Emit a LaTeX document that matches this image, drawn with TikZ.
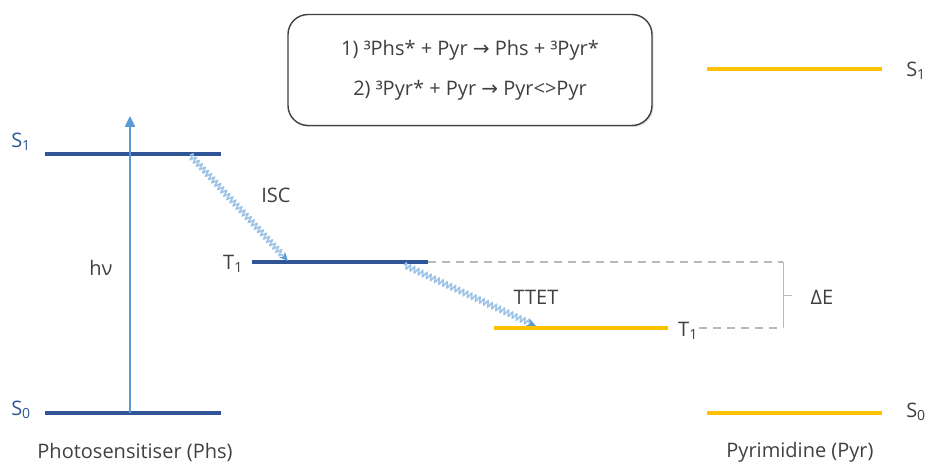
\documentclass[tikz,border=0pt]{standalone}
\usepackage{fontspec}
\setmainfont{Open Sans}
\newfontfamily\arrowfont{DejaVu Sans}
\usetikzlibrary{arrows.meta,decorations.pathmorphing,shadows}

\definecolor{phsblue}{HTML}{2F5597}
\definecolor{lightblue}{HTML}{5B9BD5}
\definecolor{wavyblue}{HTML}{9DC3E6}
\definecolor{pyrgold}{HTML}{FFC000}
\definecolor{txtgray}{HTML}{404040}

\newcommand{\ra}{{\arrowfont\char"2192}}

\begin{document}
\begin{tikzpicture}[
    x=1pt, y=-1pt,
    font=\fontsize{20}{24}\selectfont,
    level/.style={line width=3.5pt},
    phslevel/.style={level, draw=phsblue},
    pyrlevel/.style={level, draw=pyrgold},
    lbl/.style={text=txtgray, inner sep=0pt},
    phslbl/.style={lbl, text=phsblue},
    wavy/.style={
        draw=wavyblue, line width=1.5pt,
        decoration={snake, amplitude=2.8pt, segment length=4.5pt, post length=7pt},
        decorate, -{Stealth[length=9pt, width=8pt, color=lightblue]}
    },
    guide/.style={draw=gray!55, line width=1.2pt, dash pattern=on 8pt off 6pt},
    eqbox/.style={
        rectangle, rounded corners=20pt, draw=txtgray, line width=1.4pt,
        fill=white, minimum width=364pt, minimum height=111pt,
        align=center, text=txtgray, font=\fontsize{20}{40}\selectfont,
        drop shadow={opacity=0.25, shadow xshift=1.5pt, shadow yshift=-1.5pt}
    },
]
\useasboundingbox (0,0) rectangle (929,465);

% ── Photosensitiser levels ───────────────────────────────────
\coordinate (phsS1a) at (45,154);  \coordinate (phsS1b) at (221,154);
\coordinate (phsS0a) at (45,413);  \coordinate (phsS0b) at (221,413);
\coordinate (phsT1a) at (252,262); \coordinate (phsT1b) at (428,262);
\draw[phslevel] (phsS1a) -- (phsS1b);
\draw[phslevel] (phsS0a) -- (phsS0b);
\draw[phslevel] (phsT1a) -- (phsT1b);

% ── Pyrimidine levels ────────────────────────────────────────
\coordinate (pyrS1a) at (707,69);  \coordinate (pyrS1b) at (882,69);
\coordinate (pyrS0a) at (707,413); \coordinate (pyrS0b) at (882,413);
\coordinate (pyrT1a) at (494,328); \coordinate (pyrT1b) at (668,328);
\draw[pyrlevel] (pyrS1a) -- (pyrS1b);
\draw[pyrlevel] (pyrS0a) -- (pyrS0b);
\draw[pyrlevel] (pyrT1a) -- (pyrT1b);

% ── Level labels ─────────────────────────────────────────────
\node[phslbl] (lS1) at (21,142) {S\textsubscript{1}};
\node[phslbl] (lS0) at (21,410) {S\textsubscript{0}};
\node[lbl]    (lT1) at (233,264) {T\textsubscript{1}};
\node[lbl]    (rT1) at (688,331) {T\textsubscript{1}};
\node[lbl]    (rS1) at (916,71)  {S\textsubscript{1}};
\node[lbl]    (rS0) at (916,412) {S\textsubscript{0}};

% ── Excitation ───────────────────────────────────────────────
\coordinate (hvbot) at (130,413);
\coordinate (hvtop) at (130,116);
\draw[draw=lightblue, line width=2.4pt, -{Triangle[length=11pt, width=10pt]}] (hvbot) -- (hvtop);
\node[lbl] (hv) at (101,268) {hν};

% ── ISC and TTET ─────────────────────────────────────────────
\coordinate (iscA) at (190,155);
\coordinate (iscB) at (288,261);
\draw[wavy] (iscA) -- (iscB);
\node[lbl] (isc) at (276,195) {ISC};

\coordinate (ttetA) at (404,265);
\coordinate (ttetB) at (536,326);
\draw[wavy] (ttetA) -- (ttetB);
\node[lbl] (ttet) at (536,297) {TTET};

% ── Energy gap ───────────────────────────────────────────────
\coordinate (gapTop) at (783,262);
\coordinate (gapBot) at (783,328);
\coordinate (gapMid) at (783,295);
\coordinate (gapTick) at (792,295);
\coordinate (gapStart) at (699,328);
\draw[guide] (phsT1b) -- (gapTop);
\draw[guide] (gapStart) -- (gapBot);
\draw[draw=gray!55, line width=1pt] (gapTop) -- (gapBot) (gapMid) -- (gapTick);
\node[lbl] (dE) at (822,297) {ΔE};

% ── Reactions ────────────────────────────────────────────────
\node[eqbox] (eqs) at (470,70) {
    1) ³Phs* + Pyr \ra{} Phs + ³Pyr*\\
    2) ³Pyr* + Pyr \ra{} Pyr<>Pyr
};

% ── Molecule names ───────────────────────────────────────────
\node[lbl] (phs) at (135,452) {Photosensitiser (Phs)};
\node[lbl] (pyr) at (800,452) {Pyrimidine (Pyr)};

\end{tikzpicture}
\end{document}
